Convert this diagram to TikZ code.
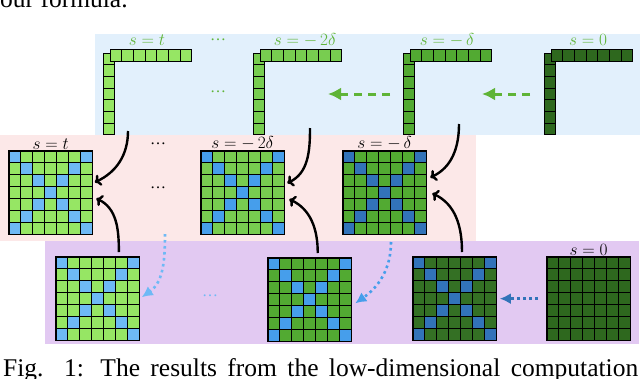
\documentclass[tikz,border=0pt]{standalone}
\usepackage{fontspec}
\setmainfont{Liberation Serif}
\usepackage{tikz}
\usetikzlibrary{arrows.meta,positioning}
\definecolor{grnA}{RGB}{150,230,100}
\definecolor{grnB}{RGB}{120,205,80}
\definecolor{grnC}{RGB}{82,170,50}
\definecolor{grnD}{RGB}{52,112,36}
\definecolor{grnE}{RGB}{46,104,30}
\definecolor{bluA}{RGB}{110,185,245}
\definecolor{bluB}{RGB}{70,158,235}
\definecolor{bluC}{RGB}{50,115,185}
\definecolor{bandtop}{RGB}{226,240,252}
\definecolor{bandmid}{RGB}{252,232,232}
\definecolor{bandlow}{RGB}{226,201,242}
\definecolor{lblgreen}{RGB}{95,180,55}
\tikzset{
  cellline/.style={draw=black,line width=0.9pt},
  gridframe/.style={draw=black,line width=1.5pt,minimum size=83.3pt,inner sep=0pt,outer sep=0pt},
  lbl/.style={font=\fontsize{16}{18}\selectfont,inner sep=1pt},
  bendarrow/.style={-{Computer Modern Rightarrow[length=6pt,width=12pt]},line width=2.4pt,black},
  greenflow/.style={-{Latex[length=13pt,width=13pt]},line width=3pt,dash pattern=on 8pt off 6pt,lblgreen},
  dotflow/.style={-{Latex[length=11pt,width=11pt]},line width=2.6pt,dash pattern=on 2.6pt off 3.4pt},
  pagetext/.style={anchor=base west,inner sep=0pt,font=\fontsize{25.5}{28}\selectfont},
}
% one L of cells: #1 name, #2 left x, #3 fill
\newcommand{\drawbar}[3]{%
  \foreach \k in {0,...,6}
    \filldraw[fill=#3,cellline] (#2,-53-\k*11.7) rectangle ++(11.7,-11.7);
  \foreach \k in {0,...,6}
    \filldraw[fill=#3,cellline] (#2+7+\k*11.7,-49.5) rectangle ++(11.7,-11.7);
  \coordinate (#1) at (#2,-53);
}
% 7x7 grid with an X: #1 name, #2 x, #3 y, #4 green, #5 blue
\newcommand{\drawgrid}[5]{%
  \foreach \i in {0,...,6}{
    \foreach \j in {0,...,6}{
      \pgfmathtruncatemacro{\onx}{(\i==\j)||(\i+\j==6)}
      \ifnum\onx=1 \def\cellfill{#5}\else\def\cellfill{#4}\fi
      \filldraw[fill=\cellfill,cellline] (#2+\j*11.9,-#3-\i*11.9) rectangle ++(11.9,-11.9);
    }
  }
  \node[gridframe,anchor=north west] (#1) at (#2,-#3) {};
}
\begin{document}
\begin{tikzpicture}[x=1pt,y=1pt]
  \clip (0,0) rectangle (640,-378);
  % Bands
  \fill[bandtop] (95,-34) rectangle (640,-135);
  \fill[bandmid] (0,-135) rectangle (476,-241);
  \fill[bandlow] (45,-241) rectangle (639,-344);
  % Page text
  \node[pagetext] (prevline) at (0,-7) {our formula.};
  \node[pagetext] (caption) at (3,-376.5)
    {\makebox[635pt][s]{Fig. 1: The results from the low-dimensional computation}};
  % Top row
  \drawbar{lT}{103}{grnA}
  \drawbar{lTwo}{253}{grnB}
  \drawbar{lOne}{403}{grnC}
  \drawbar{lZero}{544}{grnE}
  \node[lbl,text=lblgreen] (tT) at (147,-40) {$s=t$};
  \node[lbl,text=lblgreen] (tTwo) at (305,-40) {$s=-\,2\delta$};
  \node[lbl,text=lblgreen] (tOne) at (447,-40) {$s=-\,\delta$};
  \node[lbl,text=lblgreen] (tZero) at (588,-40) {$s=0$};
  \node[lbl,text=lblgreen] (topdotsA) at (218,-40) {\dots};
  \node[lbl,text=lblgreen] (topdotsB) at (218,-92) {\dots};
  \coordinate (gfromA) at (390,-94);
  \coordinate (gtoA) at (328,-94);
  \coordinate (gfromB) at (530,-94);
  \coordinate (gtoB) at (482,-94);
  \draw[greenflow] (gfromA) -- (gtoA);
  \draw[greenflow] (gfromB) -- (gtoB);
  % Middle row
  \drawgrid{gT}{9}{151}{grnA}{bluA}
  \drawgrid{gTwo}{201}{151}{grnB}{bluB}
  \drawgrid{gOne}{343}{151}{grnC}{bluC}
  \node[lbl,above] (mT) at (gT.north) {$s=t$};
  \node[lbl,above] (mTwo) at (gTwo.north) {$s=-\,2\delta$};
  \node[lbl,above] (mOne) at (gOne.north) {$s=-\,\delta$};
  \node[lbl] (middotsA) at (158,-144) {\dots};
  \node[lbl] (middotsB) at (158,-188) {\dots};
  % Bottom row
  \drawgrid{bT}{56}{257}{grnA}{bluA}
  \drawgrid{bTwo}{268}{258}{grnC}{bluB}
  \drawgrid{bOne}{413}{257}{grnD}{bluC}
  \drawgrid{bZero}{547}{257}{grnE}{grnE}
  \node[lbl,above] (bZ) at (bZero.north) {$s=0$};
  \node[lbl,text=bluA] (lowdots) at (210,-296) {\dots};
  % Black arrows into the middle row
  \coordinate (srcT) at (128,-131);
  \coordinate (srcTwo) at (310,-128);
  \coordinate (srcOne) at (459,-124);
  \draw[bendarrow] (srcT) to[out=-90,in=25] ([xshift=2.5pt]gT.14);
  \draw[bendarrow] ([yshift=5pt]bT.63) to[out=90,in=-25] ([xshift=4pt]gT.-8);
  \draw[bendarrow] (srcTwo) to[out=-90,in=25] ([xshift=3pt]gTwo.13);
  \draw[bendarrow] ([yshift=5pt]bTwo.79) to[out=90,in=-25] ([xshift=5pt]gTwo.-9);
  \draw[bendarrow] (srcOne) to[out=-90,in=25] ([xshift=4pt]gOne.20);
  \draw[bendarrow] ([yshift=5pt]bOne.80) to[out=90,in=-25] ([xshift=6pt]gOne.-1);
  % Dotted blue arrows
  \coordinate (dsrcA) at (165,-234);
  \coordinate (dsrcB) at (391,-242);
  \draw[dotflow,bluA] (dsrcA) to[out=-90,in=35] ([xshift=2.5pt]bT.2);
  \draw[dotflow,bluB] (dsrcB) to[out=-90,in=35] ([xshift=4pt]bTwo.-5);
  \draw[dotflow,bluC,shorten <=9pt] (bZero.west) -- ([xshift=3.5pt]bOne.east);
\end{tikzpicture}
\end{document}
